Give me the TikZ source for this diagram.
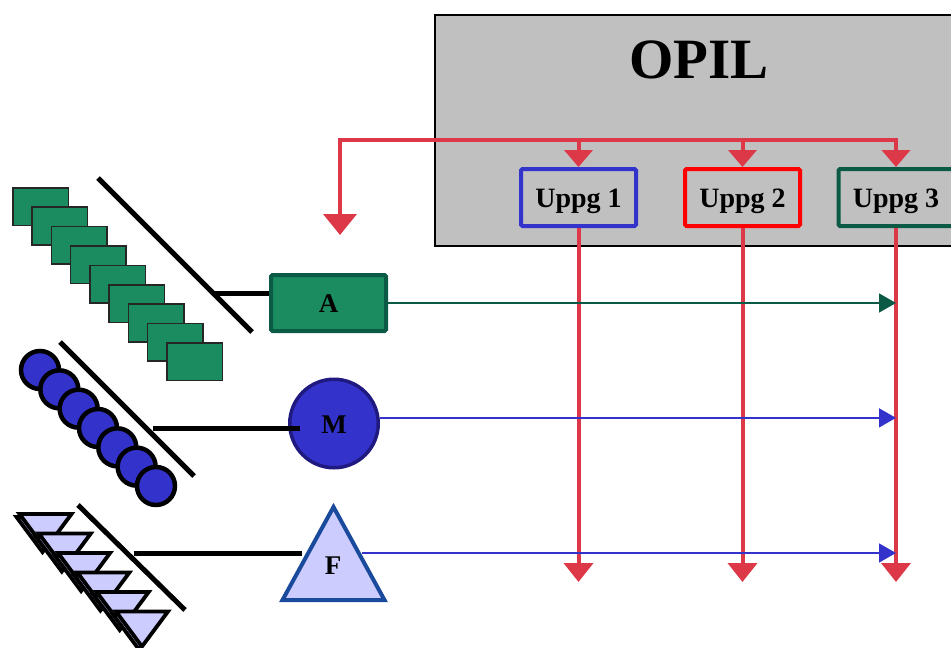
\documentclass[tikz,border=0pt]{standalone}
\usepackage{fontspec}
\setmainfont{Liberation Serif}
\usetikzlibrary{arrows.meta,calc}
\definecolor{opilgray}{RGB}{192,192,192}
\definecolor{flowred}{RGB}{221,56,72}
\definecolor{itemgreen}{RGB}{26,140,95}
\definecolor{darkgreen}{RGB}{10,90,70}
\definecolor{itemblue}{RGB}{51,51,204}
\definecolor{navyedge}{RGB}{32,26,128}
\definecolor{lavender}{RGB}{204,204,255}
\definecolor{fedge}{RGB}{26,74,156}
\definecolor{boxred}{RGB}{255,0,0}
\begin{document}
\begin{tikzpicture}[x=1pt,y=-1pt,
  redline/.style={draw=flowred,line width=4pt},
  redtip/.style={-{Triangle[length=19pt,width=29pt]}},
  feedtip/.style={-{Triangle[length=17pt,width=28pt]}},
  thinflow/.style={line width=1.6pt,-{Triangle[length=17pt,width=19pt]}},
  blackline/.style={draw=black,line width=5pt},
  taskbox/.style={draw,line width=4pt,rounded corners=1.5pt,minimum width=115pt,
    minimum height=57pt,inner sep=0pt,text height=19pt,text depth=0pt,
    font=\fontsize{28}{28}\selectfont\bfseries},
  itemfont/.style={font=\fontsize{27}{27}\selectfont\bfseries,text height=19pt,text depth=0pt},
  stackrect/.style={draw=black!85,line width=1.6pt,fill=itemgreen},
  stackdot/.style={draw=black,line width=4.5pt,fill=itemblue},
  stacktri/.style={draw=black,line width=3.8pt,fill=lavender,line join=miter},
]
\path[use as bounding box,clip] (0,0) rectangle (951,648);

% OPIL frame
\draw[fill=opilgray,draw=black,line width=1.2pt] (435,15) rectangle (965,246);
\node[font=\fontsize{57}{57}\selectfont\bfseries,anchor=base] (opil) at (699,78) {OPIL};

% task boxes
\node[taskbox,draw=itemblue] (u1) at (578.5,197.5) {Uppg 1};
\node[taskbox,draw=boxred] (u2) at (742.5,197.5) {Uppg 2};
\node[taskbox,draw=darkgreen] (u3) at (896,197.5) {Uppg 3};

% distribution bus
\coordinate (bus) at (340,140);
\coordinate (busR) at (896,140);
\coordinate (leftdrop) at (340,235);
\coordinate (bottom) at (0,582);
\draw[redline,{Triangle[length=17pt,width=28pt]}-{Triangle[length=21pt,width=33pt]}]
  (u3.north) -- (busR) -- (bus) -- (leftdrop);
\draw[redline,feedtip] (u1.north |- bus) -- (u1.north);
\draw[redline,feedtip] (u2.north |- bus) -- (u2.north);

% outputs of the tasks
\draw[redline,redtip] (u1.south) -- (u1.south |- bottom);
\draw[redline,redtip] (u2.south) -- (u2.south |- bottom);
\draw[redline,redtip] (u3.south) -- (u3.south |- bottom);

% stack of green cards
\foreach \i in {0,...,8}
  \draw[stackrect] ({12.8+19.25*\i},{187.8+19.4*\i}) rectangle ++(55.5,37.5);
\coordinate (d1a) at (98,178);
\coordinate (d1b) at (252,332);
\draw[blackline] (d1a) -- (d1b);
\coordinate (d1m) at (213,293);

% stack of blue discs
\foreach \i in {0,...,6}
  \draw[stackdot] ({40+19.33*\i},{370+19.33*\i}) circle[radius=19pt];
\coordinate (d2a) at (60,342);
\coordinate (d2b) at (194,476);
\draw[blackline] (d2a) -- (d2b);
\coordinate (d2m) at (153,428);

% stack of triangles
\foreach \i in {0,...,5} {
  \coordinate (t) at ({19.5+19.3*\i},{514+19.5*\i});
  \draw[stacktri] ($(t)+(-3,3)$) -- ++(52,0) -- ++(-26,35) -- cycle;
  \draw[stacktri] (t) -- ++(52,0) -- ++(-26,35) -- cycle;
}
\coordinate (d3a) at (78,505);
\coordinate (d3b) at (185,610);
\draw[blackline] (d3a) -- (d3b);
\coordinate (d3m) at (134,553);

% item A
\node[itemfont,draw=darkgreen,fill=itemgreen,line width=4pt,rounded corners=1.5pt,
  minimum width=115pt,minimum height=56pt,inner sep=0pt] (A) at (328.5,303) {A};
\draw[blackline] (d1m) -- (d1m -| A.west);
\draw[thinflow,draw=darkgreen,fill=darkgreen] (A.east) -- (A.east -| u3.south);

% item M
\node[itemfont,circle,draw=navyedge,fill=itemblue,line width=3.5pt,
  minimum size=88.5pt,inner sep=0pt] (M) at (334,423.5) {M};
\coordinate (Min) at (300,428);
\draw[blackline] (d2m) -- (Min);
\draw[thinflow,draw=itemblue,fill=itemblue] (M.7) -- (M.7 -| u3.south);

% item F
\coordinate (Fin) at (302,553);
\draw[blackline] (d3m) -- (Fin);
\draw[draw=fedge,fill=lavender,line width=4pt,line join=miter]
  (333.5,507) -- (384.5,600) -- (282.5,600) -- cycle;
\node[itemfont] (F) at (333,565) {F};
\coordinate (Fout) at (362,553);
\draw[thinflow,draw=itemblue,fill=itemblue] (Fout) -- (Fout -| u3.south);
\end{tikzpicture}
\end{document}
